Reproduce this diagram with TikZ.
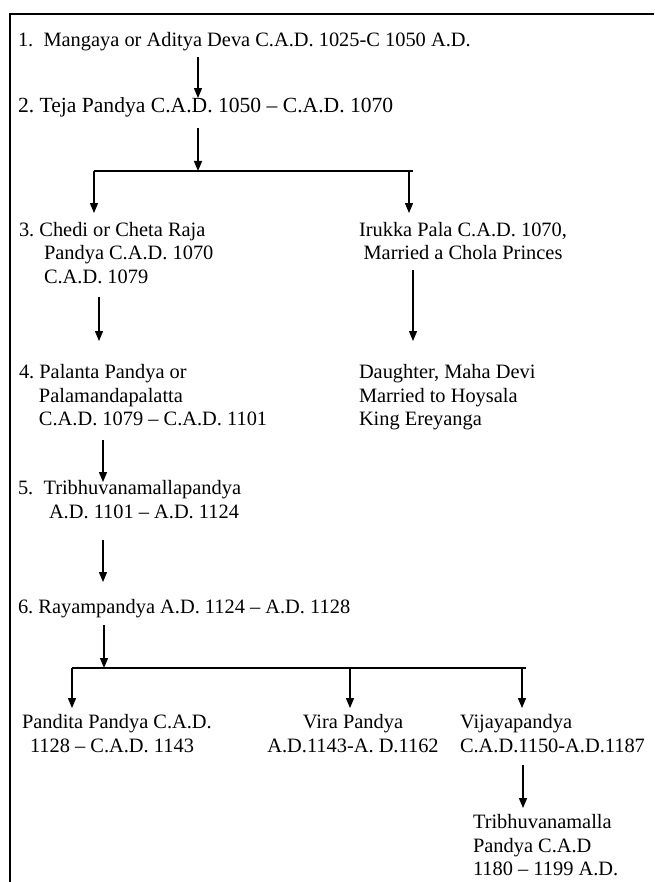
\documentclass[tikz,border=0pt]{standalone}
\usepackage{fontspec}
\setmainfont{Liberation Serif}
\usetikzlibrary{arrows.meta}
\frenchspacing
\newcommand{\txtrows}[2][l]{\begin{tabular}[t]{@{}#1@{}}#2\end{tabular}}
\begin{document}
\begin{tikzpicture}[x=1pt,y=-1pt,
  font={\fontsize{20.4}{23.5}\selectfont},
  txt/.style={inner sep=0pt, outer sep=0pt, anchor=base west},
  txtc/.style={inner sep=0pt, outer sep=0pt, anchor=base},
  ln/.style={line width=1.3pt},
  arr/.style={line width=1.3pt, -{Triangle[length=10pt,width=8pt]}},
  frame/.style={line width=2.7pt, line join=miter}]
\useasboundingbox (0,0) rectangle (654,882);
\draw[frame] (654,14) -- (10,14) -- (10,885);

% nodes
\node[txt] (n1) at (18,46.5) {\txtrows{1.\ \ Mangaya or Aditya Deva C.A.D. 1025-C 1050 A.D.}};
\node[txt, font={\fontsize{21.6}{23.5}\selectfont}] (n2) at (18,112.5) {\txtrows{2. Teja Pandya C.A.D. 1050 – C.A.D. 1070}};
\node[txt] (n3) at (19,236.5) {\txtrows{3. Chedi or Cheta Raja\\\hspace*{25pt}Pandya C.A.D. 1070\\\hspace*{25pt}C.A.D. 1079}};
\node[txtc] (ir) at (463,236.5) {\txtrows[c]{Irukka Pala C.A.D. 1070,\\Married a Chola Princes}};
\node[txt] (n4) at (19,378.5) {\txtrows{4. Palanta Pandya or\\\hspace*{20pt}Palamandapalatta\\\hspace*{20pt}C.A.D. 1079 – C.A.D. 1101}};
\node[txt] (da) at (359,378.5) {\txtrows{Daughter, Maha Devi\\Married to Hoysala\\King Ereyanga}};
\node[txt] (n5) at (18,494.5) {\txtrows{5.\ \ Tribhuvanamallapandya\\\hspace*{31pt}A.D. 1101 – A.D. 1124}};
\node[txt] (n6) at (18,613.5) {\txtrows{6. Rayampandya A.D. 1124 – A.D. 1128}};
\node[txt] (pa) at (22,728.5) {\txtrows{Pandita Pandya C.A.D.\\\hspace*{8pt}1128 – C.A.D. 1143}};
\node[txtc] (vi) at (353,728.5) {\txtrows[c]{Vira Pandya\\A.D.1143-A. D.1162}};
\node[txt] (vj) at (460,728.5) {\txtrows{Vijayapandya\\C.A.D.1150-A.D.1187}};
\node[txt] (tr) at (473,828.5) {\txtrows{Tribhuvanamalla\\Pandya C.A.D\\1180 – 1199 A.D.}};

% junction coordinates
\coordinate (j1) at (198,171);
\coordinate (h1l) at (94,171);
\coordinate (h1m) at (409,171);
\coordinate (h1r) at (413,171);
\coordinate (j2) at (104,668);
\coordinate (h2l) at (72,668);
\coordinate (h2m) at (350,668);
\coordinate (h2n) at (522,668);
\coordinate (h2r) at (526,668);

% connector end points
\path ([xshift=180pt,yshift=-3.5pt]n1.south west) coordinate (s1)
      ([yshift=-2pt]n2.north) coordinate (e1)
      ([xshift=180pt,yshift=-8.5pt]n2.south west) coordinate (s2)
      ([yshift=7pt]n3.north) coordinate (e3)
      ([yshift=7pt]ir.north) coordinate (eir)
      ([xshift=80pt,yshift=-6.5pt]n3.south west) coordinate (s3)
      ([yshift=21pt]n4.north) coordinate (e4)
      ([xshift=-50pt,yshift=-3pt]ir.south) coordinate (sir)
      ([yshift=21pt]da.north) coordinate (eda)
      ([xshift=84pt,yshift=-7.5pt]n4.south west) coordinate (s4)
      ([yshift=-4pt]n5.north) coordinate (e5)
      ([xshift=85pt,yshift=-15pt]n5.south west) coordinate (s5)
      ([yshift=15pt]n6.north) coordinate (e6)
      ([xshift=86pt,yshift=-4.5pt]n6.south west) coordinate (s6)
      ([yshift=4pt]pa.north) coordinate (epa)
      ([yshift=4pt]vi.north) coordinate (evi)
      ([yshift=4pt]vj.north) coordinate (evj)
      ([xshift=63pt,yshift=-6pt]vj.south west) coordinate (svj)
      ([yshift=4pt]tr.north) coordinate (etr);

% connectors
\draw[arr] (s1) -- (s1 |- e1);
\draw[arr] (s2) -- (j1);
\draw[ln] (h1l) -- (h1r);
\draw[arr] (h1l) -- (h1l |- e3);
\draw[arr] (h1m) -- (h1m |- eir);
\draw[arr] (s3) -- (s3 |- e4);
\draw[arr] (sir) -- (sir |- eda);
\draw[arr] (s4) -- (s4 |- e5);
\draw[arr] (s5) -- (s5 |- e6);
\draw[arr] (s6) -- (s6 |- j2);
\draw[ln] (h2l) -- (h2r);
\draw[arr] (h2l) -- (h2l |- epa);
\draw[arr] (h2m) -- (h2m |- evi);
\draw[arr] (h2n) -- (h2n |- evj);
\draw[arr] (svj) -- (svj |- etr);
\end{tikzpicture}
\end{document}
